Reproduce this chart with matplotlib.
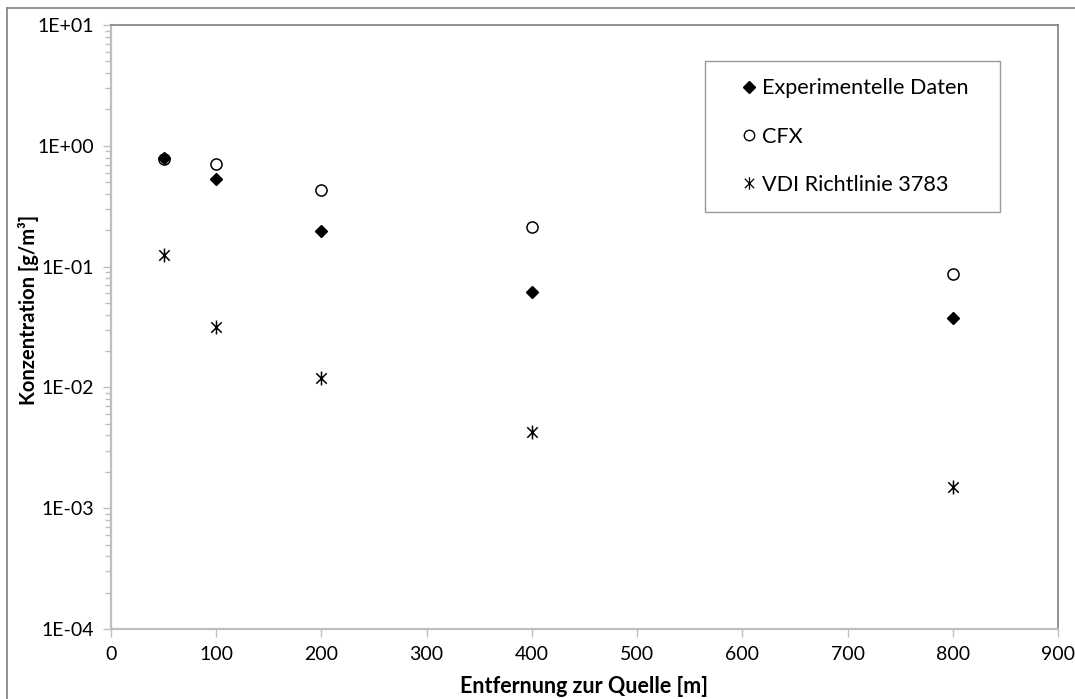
import matplotlib
matplotlib.use('Agg')
import matplotlib.pyplot as plt
from matplotlib.path import Path
from matplotlib.ticker import LogLocator
from matplotlib.lines import Line2D

plt.rcParams['font.family'] = ['Lato', 'DejaVu Sans']

# distance from source [m]
distance = [50, 100, 200, 400, 800]
# concentration [g/m3]
experiment = [0.80, 0.53, 0.197, 0.0616, 0.0375]
cfx = [0.78, 0.71, 0.428, 0.213, 0.087]
vdi = [0.125, 0.0318, 0.0120, 0.00428, 0.00151]

labels = ['Experimentelle Daten', 'CFX', 'VDI Richtlinie 3783']
x_ticks = [0, 100, 200, 300, 400, 500, 600, 700, 800, 900]
y_ticks = [1e-4, 1e-3, 1e-2, 1e-1, 1e0, 1e1]
y_tick_labels = ['1E-04', '1E-03', '1E-02', '1E-01', '1E+00', '1E+01']

# excel-like star marker: vertical bar plus an X
star = Path([(0, -1), (0, 1), (-0.75, -0.75), (0.75, 0.75), (-0.75, 0.75), (0.75, -0.75)],
            [Path.MOVETO, Path.LINETO, Path.MOVETO, Path.LINETO, Path.MOVETO, Path.LINETO])

fig = plt.figure(figsize=(10.75, 6.99), dpi=100)
ax = fig.add_axes([111 / 1075, 1 - 629 / 699, 947 / 1075, 604 / 699])

ax.plot(distance, cfx, linestyle='none', marker='o', markerfacecolor='white',
        markeredgecolor='black', markersize=8, markeredgewidth=1.1, zorder=3)
ax.plot(distance, experiment, linestyle='none', marker='D', color='black', markersize=6.5,
        zorder=4)
ax.plot(distance, vdi, linestyle='none', marker=star, color='black', markersize=10,
        markeredgewidth=1.1, zorder=3)

ax.set_yscale('log')
ax.set_xlim(0, 900)
ax.set_ylim(1e-4, 1e1)
ax.set_xticks(x_ticks)
ax.set_xticklabels([str(t) for t in x_ticks])
ax.set_yticks(y_ticks)
ax.set_yticklabels(y_tick_labels)
ax.yaxis.set_minor_locator(LogLocator(base=10, subs=range(2, 10)))
ax.yaxis.set_minor_formatter(plt.NullFormatter())

ax.tick_params(axis='both', which='major', labelsize=14, colors='#bfbfbf',
               labelcolor='black', length=6, width=1)
ax.tick_params(axis='y', which='minor', colors='#bfbfbf', length=4, width=1)
ax.tick_params(axis='x', pad=6)
ax.tick_params(axis='y', pad=6)

for side in ['left', 'bottom']:
    ax.spines[side].set_color('#bfbfbf')
    ax.spines[side].set_linewidth(1.6)
for side in ['top', 'right']:
    ax.spines[side].set_color('#808080')
    ax.spines[side].set_linewidth(1.2)

ax.set_xlabel('Entfernung zur Quelle [m]', fontsize=15.5, fontweight='bold')
ax.set_ylabel('Konzentration [g/m³]', fontsize=14.5, fontweight='bold')
ax.xaxis.set_label_coords(0.5, -0.078)
ax.yaxis.set_label_coords(-0.076, 0.528)

handles = [
    Line2D([], [], linestyle='none', marker='D', color='black', markersize=6),
    Line2D([], [], linestyle='none', marker='o', markerfacecolor='white',
           markeredgecolor='black', markersize=7.5),
    Line2D([], [], linestyle='none', marker=star, color='black', markersize=9,
           markeredgewidth=0.9),
]
leg = ax.legend(handles, labels, loc='upper left', mode='expand',
                bbox_to_anchor=(594 / 947, 1 - 36 / 604, 295 / 947, 0),
                fontsize=15.6, frameon=True, fancybox=False, edgecolor='#808080',
                handlelength=2.5, handletextpad=-0.65, labelspacing=1.3,
                borderpad=0.8, borderaxespad=0)
leg.get_frame().set_linewidth(1.0)

# outer chart border (only left and top visible)
fig.add_artist(Line2D([7 / 1075, 7 / 1075], [0, 1 - 8 / 699], transform=fig.transFigure,
                      color='#808080', linewidth=1.2))
fig.add_artist(Line2D([7 / 1075, 1], [1 - 8 / 699, 1 - 8 / 699], transform=fig.transFigure,
                      color='#808080', linewidth=1.2))

fig.savefig('out.png', dpi=100)
